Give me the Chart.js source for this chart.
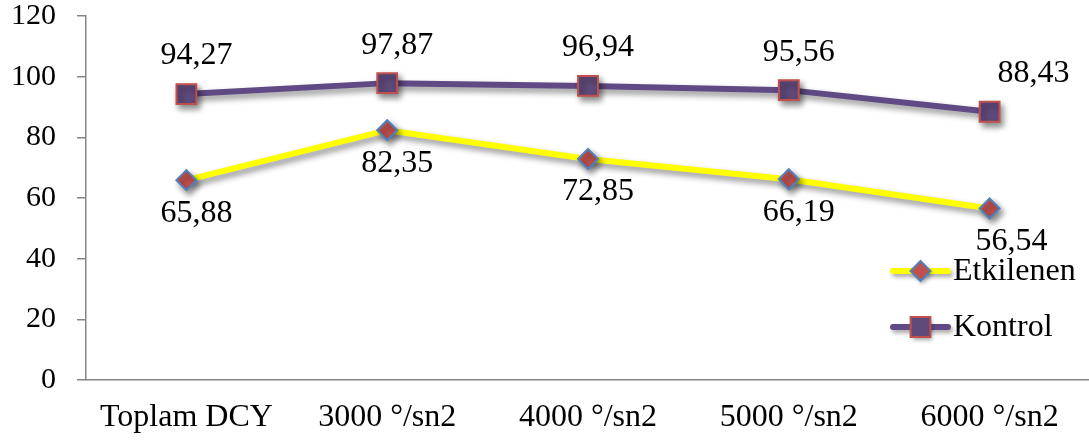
<!DOCTYPE html>
<html>
<head>
<meta charset="utf-8">
<script src="https://cdn.jsdelivr.net/npm/chart.js@4/dist/chart.umd.min.js"></script>
<style>
  html, body { margin: 0; padding: 0; background: #fff; overflow: hidden; }
  #wrap { width: 1089px; height: 441px; }
  canvas { display: block; }
</style>
</head>
<body>
<div id="wrap"><canvas id="c"></canvas></div>
<script>
// ---- data ----
const categories = ["Toplam DCY", "3000 °/sn2", "4000 °/sn2", "5000 °/sn2", "6000 °/sn2"];
const etkilenen = [65.88, 82.35, 72.85, 66.19, 56.54];
const kontrol = [94.27, 97.87, 96.94, 95.56, 88.43];
const yTicks = [0, 20, 40, 60, 80, 100, 120];

const SERIF = "'Liberation Serif', 'Times New Roman', serif";
const AXIS_GREY = "#868686";
const LABEL_FONT = "32px " + SERIF;
const PAGE_W = 1089;
const PLOT_RIGHT = 1090; // plot runs right to the page edge

// comma decimal labels
function fmt(v) {
    return v.toFixed(2).replace(".", ",");
}

// soft drop shadow under lines and markers
const shadowPlugin = {
    id: "shadow",
    beforeDatasetDraw(chart) {
        const ctx = chart.ctx;
        ctx.save();
        ctx.shadowColor = "rgba(0,0,0,0.45)";
        ctx.shadowBlur = 6;
        ctx.shadowOffsetX = 3;
        ctx.shadowOffsetY = 4;
    },
    afterDatasetDraw(chart) {
        chart.ctx.restore();
    }
};

// value labels: Kontrol above, Etkilenen below
const valueLabels = {
    id: "valueLabels",
    afterDatasetsDraw(chart) {
        const ctx = chart.ctx;
        ctx.save();
        ctx.font = LABEL_FONT;
        ctx.fillStyle = "#000";
        ctx.textAlign = "center";
        ctx.textBaseline = "middle";
        chart.data.datasets.forEach((ds, i) => {
            const meta = chart.getDatasetMeta(i);
            const last = meta.data.length - 1;
            meta.data.forEach((pt, j) => {
                const txt = fmt(ds.data[j]);
                const dy = ds.labelAbove ? -38 : 33;
                // end labels lean right, a bit more for the upper series
                let x = pt.x + (j === last ? (ds.labelAbove ? 44 : 22) : 10);
                const w = ctx.measureText(txt).width;
                if (x + w / 2 > PAGE_W - 4) x = PAGE_W - 4 - w / 2;
                ctx.fillText(txt, x, pt.y + dy);
            });
        });
        ctx.restore();
    }
};

// legend drawn inside the plot: line segment with marker, then name
const lineLegend = {
    id: "lineLegend",
    afterDraw(chart) {
        const ctx = chart.ctx;
        const x0 = 893, x1 = 948;
        const cx = (x0 + x1) / 2;
        const rows = [271, 327];
        chart.data.datasets.forEach((ds, i) => {
            const y = rows[i];
            ctx.save();
            ctx.shadowColor = "rgba(0,0,0,0.35)";
            ctx.shadowBlur = 4;
            ctx.shadowOffsetX = 2;
            ctx.shadowOffsetY = 3;
            ctx.strokeStyle = ds.borderColor;
            ctx.lineWidth = ds.borderWidth;
            ctx.lineCap = "round";
            ctx.beginPath();
            ctx.moveTo(x0, y);
            ctx.lineTo(x1, y);
            ctx.stroke();

            ctx.fillStyle = ds.pointBackgroundColor;
            ctx.strokeStyle = ds.pointBorderColor;
            ctx.lineWidth = ds.pointBorderWidth;
            ctx.beginPath();
            if (ds.pointStyle === "rectRot") {
                const r = ds.pointRadius;
                ctx.moveTo(cx, y - r);
                ctx.lineTo(cx + r, y);
                ctx.lineTo(cx, y + r);
                ctx.lineTo(cx - r, y);
                ctx.closePath();
            } else {
                const s = ds.pointRadius * Math.SQRT1_2;
                ctx.rect(cx - s, y - s, 2 * s, 2 * s);
            }
            ctx.fill();
            ctx.shadowColor = "transparent";
            ctx.stroke();

            ctx.font = LABEL_FONT;
            ctx.fillStyle = "#000";
            ctx.textAlign = "left";
            ctx.textBaseline = "middle";
            ctx.fillText(ds.label, 953, y + 1);
            ctx.restore();
        });
    }
};

const chart = new Chart(document.getElementById("c"), {
    type: "line",
    data: {
        labels: categories,
        datasets: [
            {
                label: "Etkilenen",
                data: etkilenen,
                borderColor: "#ffff00",
                borderWidth: 6,
                pointStyle: "rectRot",
                pointRadius: 10,
                pointHoverRadius: 10,
                pointBackgroundColor: "#c0504d",
                pointBorderColor: "#4f81bd",
                pointBorderWidth: 2,
                labelAbove: false,
                tension: 0
            },
            {
                label: "Kontrol",
                data: kontrol,
                borderColor: "#5f4a85",
                borderWidth: 6,
                pointStyle: "rect",
                pointRadius: 14,
                pointHoverRadius: 14,
                pointBackgroundColor: "#5f497a",
                pointBorderColor: "#c0504d",
                pointBorderWidth: 2,
                labelAbove: true,
                tension: 0
            }
        ]
    },
    options: {
        responsive: true,
        maintainAspectRatio: false,
        animation: false,
        events: [],
        layout: { padding: { top: 15, right: 0, left: 0, bottom: 0 } },
        plugins: {
            legend: { display: false },
            tooltip: { enabled: false }
        },
        scales: {
            x: {
                offset: true,
                grid: { display: false },
                border: { display: true, color: AXIS_GREY, width: 1.5 },
                ticks: {
                    color: "#000",
                    font: { family: SERIF, size: 32 },
                    padding: 10,
                    maxRotation: 0,
                    autoSkip: false
                },
                afterFit(scale) {
                    scale.height = 61;
                    scale.paddingLeft = 0;
                    scale.paddingRight = 0;
                }
            },
            y: {
                min: 0,
                max: 120,
                afterBuildTicks(scale) {
                    scale.ticks = yTicks.map(v => ({ value: v }));
                },
                grid: {
                    drawOnChartArea: false,
                    drawTicks: true,
                    tickLength: 9,
                    color: AXIS_GREY,
                    lineWidth: 1.5
                },
                border: { display: true, color: AXIS_GREY, width: 1.5 },
                ticks: {
                    color: "#000",
                    font: { family: SERIF, size: 30 },
                    padding: 21
                },
                afterFit(scale) {
                    scale.width = 86;
                    scale.paddingTop = 0;
                    scale.paddingBottom = 0;
                }
            }
        }
    },
    plugins: [shadowPlugin, valueLabels, lineLegend]
});

// layout keeps a small gap at the right; widen the canvas past the page edge to close it
const gap = PLOT_RIGHT - chart.chartArea.right;
if (gap > 0.5) {
    const w = Math.round(PAGE_W + gap);
    document.getElementById("wrap").style.width = w + "px";
    chart.resize(w, 441);
}
</script>
</body>
</html>
